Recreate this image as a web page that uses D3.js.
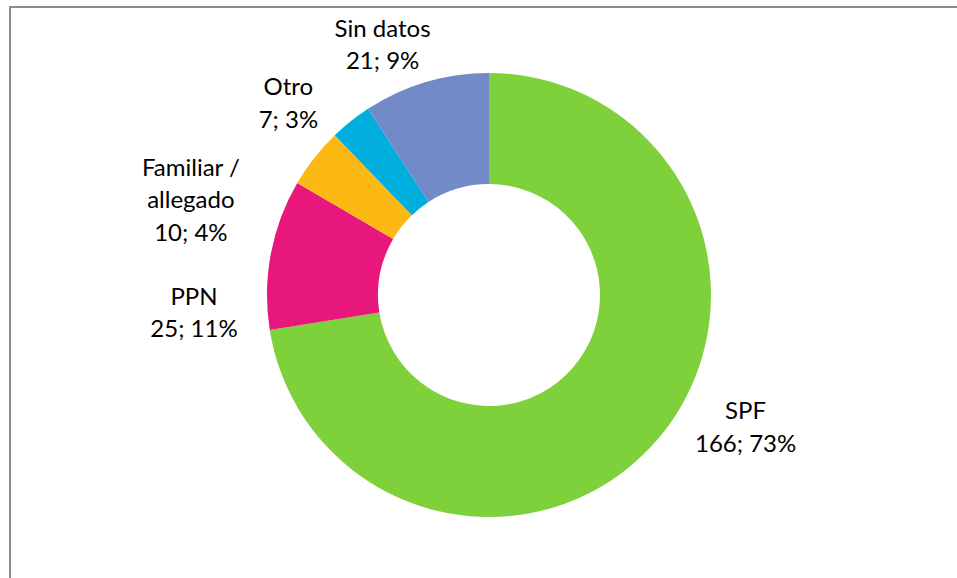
<!DOCTYPE html>
<html>
<head>
<meta charset="utf-8">
<script src="https://cdn.jsdelivr.net/npm/d3@7"></script>
<style>
  body { margin: 0; background: #fff; }
  text { font-family: Lato, "Open Sans", sans-serif; fill: #000; }
</style>
</head>
<body>
<svg id="chart" width="957" height="578"></svg>
<script>
// donut: counts by category, percent labels as shown in the chart
var categories = ['SPF', 'PPN', 'Familiar / allegado', 'Otro', 'Sin datos'];
var values = [166, 25, 10, 7, 21];
var percents = ['73%', '11%', '4%', '3%', '9%'];
var labelLines = [['SPF'], ['PPN'], ['Familiar /', 'allegado'], ['Otro'], ['Sin datos']];

var colors = ['#7ed13b', '#e8177b', '#fdb913', '#00aedd', '#728ac8'];
// hand placement of labels, relative to the label arc
var nudges = [[36, -64], [-10, 63], [-70, 60], [-20, 27], [-24, 20]];

var svg = d3.select('#chart'),
    cx = 489, cy = 295,
    outerR = 222, innerR = 111,
    lineH = 32.5;

// frame (left and top edges visible)
svg.append('path')
    .attr('d', 'M10,578 V7 H957')
    .attr('fill', 'none')
    .attr('stroke', '#8c8c8c')
    .attr('stroke-width', 2);

var pie = d3.pie().sort(null).value(function(d) { return d; });
var arc = d3.arc().innerRadius(innerR).outerRadius(outerR);
var labelArc = d3.arc().innerRadius(290).outerRadius(290);

var g = svg.append('g')
    .attr('transform', 'translate(' + cx + ',' + cy + ')');

var arcs = pie(values);

g.selectAll('path.slice')
  .data(arcs)
  .enter().append('path')
    .attr('class', 'slice')
    .attr('d', arc)
    .attr('fill', function(d, i) { return colors[i]; });

var label = g.selectAll('text.label')
  .data(arcs)
  .enter().append('text')
    .attr('class', 'label')
    .attr('text-anchor', 'middle')
    .style('font-size', '24px')
    .attr('transform', function(d, i) {
        var c = labelArc.centroid(d);
        return 'translate(' + (c[0] + nudges[i][0]) + ',' + (c[1] + nudges[i][1]) + ')';
    });

label.each(function(d, i) {
    var t = d3.select(this);
    var lines = labelLines[i].concat([values[i] + '; ' + percents[i]]);
    lines.forEach(function(s, k) {
        t.append('tspan').attr('x', 0).attr('y', k * lineH).text(s);
    });
});
</script>
</body>
</html>
